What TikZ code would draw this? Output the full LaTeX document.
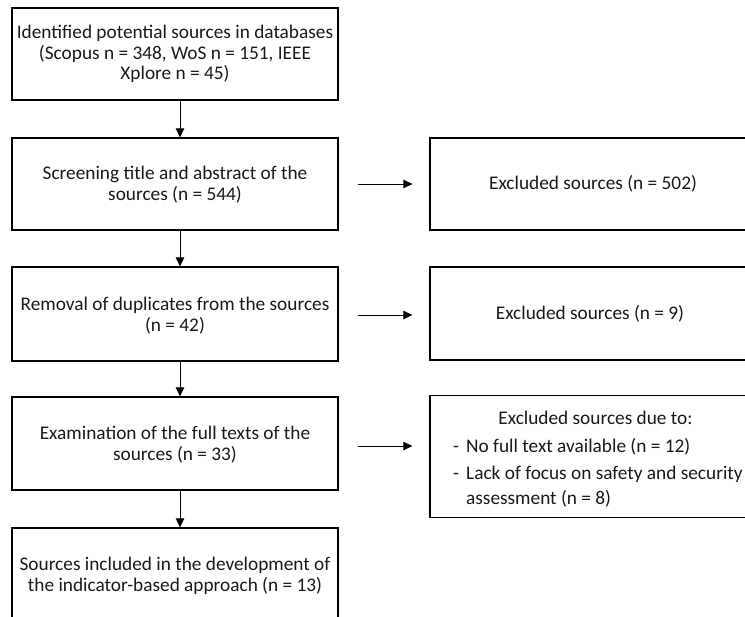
\documentclass[tikz,border=0pt]{standalone}
\usepackage{fontspec}
\setmainfont{Carlito}
\usetikzlibrary{arrows.meta}
\begin{document}
\begin{tikzpicture}[x=1pt,y=-1pt,
  box/.style={draw=black, line width=1.3pt, rectangle, inner sep=0pt},
  mainbox/.style={box, minimum width=326pt},
  sidebox/.style={box, minimum width=330pt},
  txt/.style={font=\fontsize{19.3}{20.8}\selectfont, text=black!90, align=center, inner sep=0pt},
  ltxt/.style={font=\fontsize{19.3}{20.8}\selectfont, text=black!90, inner sep=0pt, anchor=base west},
  arr/.style={line width=0.9pt, -{Triangle[length=9pt,width=8.5pt]}}]
\useasboundingbox (0,0) rectangle (745,617);
\clip (0,0) rectangle (745,617);
% main column
\node[mainbox, minimum height=92pt] (b1) at (175,54) {};
\node[mainbox, minimum height=92pt] (b2) at (175,184) {};
\node[mainbox, minimum height=94pt] (b3) at (175,314) {};
\node[mainbox, minimum height=93pt] (b4) at (175,443.5) {};
\node[mainbox, minimum height=98pt] (b5) at (175,577) {};
% side column
\node[sidebox, minimum height=92pt] (e1) at (595,184) {};
\node[sidebox, minimum height=93pt] (e2) at (595,313.5) {};
\node[sidebox, minimum height=122pt] (e3) at (595,456.5) {};
% texts
\node[txt] (t1) at (175,54) {Identified potential sources in databases\\(Scopus n = 348, WoS n = 151, IEEE\\Xplore n = 45)};
\node[txt] (t2) at (175,185) {Screening title and abstract of the\\sources (n = 544)};
\node[txt] (t3) at (175,316) {Removal of duplicates from the sources\\(n = 42)};
\node[txt] (t4) at (175,445) {Examination of the full texts of the\\sources (n = 33)};
\node[txt] (t5) at (175,576) {Sources included in the development of\\the indicator-based approach (n = 13)};
\node[txt] (s1) at (593,184) {Excluded sources (n = 502)};
\node[txt] (s2) at (590,314) {Excluded sources (n = 9)};
\node[txt, anchor=base] (s3) at (595.5,425) {Excluded sources due to:};
\node[ltxt] (s4) at (453,453) {\makebox[13pt][l]{-}No full text available (n = 12)};
\node[ltxt] (s5) at (453,480) {\makebox[13pt][l]{-}Lack of focus on safety and security};
\node[ltxt] (s6) at (466,505) {assessment (n = 8)};
% connectors
\draw[arr] ([xshift=5pt]b1.south) -- ([xshift=5pt]b2.north);
\draw[arr] ([xshift=5pt]b2.south) -- ([xshift=5pt]b3.north);
\draw[arr] ([xshift=5pt]b3.south) -- ([xshift=5pt]b4.north);
\draw[arr] ([xshift=5pt]b4.south) -- ([xshift=5pt]b5.north);
\draw[arr, shorten <=19pt, shorten >=17pt] (b2.east) -- (e1.west);
\draw[arr, shorten <=19pt, shorten >=17pt] ([yshift=-1pt]b3.east) -- ([yshift=-1pt]b3.east -| e2.west);
\draw[arr, shorten <=19pt, shorten >=17pt] ([yshift=-2.5pt]b4.east) -- ([yshift=-2.5pt]b4.east -| e3.west);
\end{tikzpicture}
\end{document}
